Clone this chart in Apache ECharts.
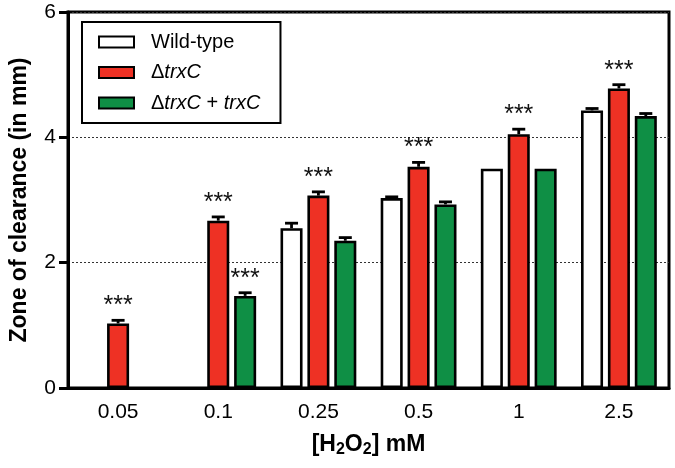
<!DOCTYPE html>
<html>
<head>
<meta charset="utf-8">
<script src="https://cdn.jsdelivr.net/npm/echarts@6/dist/echarts.min.js"></script>
<style>
  html, body { margin: 0; padding: 0; background: #fff; }
  #chart { width: 675px; height: 468px; }
</style>
</head>
<body>
<div id="chart"></div>
<script>
const categories = ['0.05', '0.1', '0.25', '0.5', '1', '2.5'];
const yTicks = [0, 2, 4, 6];

// mean zone of clearance (mm) and upper error (SD)
const wildMean = ['-', '-', 2.55, 3.03, 3.50, 4.43];
const wildErr = [0, 0, 0.08, 0.02, 0.0, 0.03];
const mutMean = [1.03, 2.67, 3.07, 3.53, 4.05, 4.78];
const mutErr = [0.05, 0.06, 0.06, 0.07, 0.08, 0.06];
const compMean = ['-', 1.47, 2.35, 2.93, 3.50, 4.34];
const compErr = [0, 0.05, 0.05, 0.04, 0.0, 0.04];
const mutStars = [1, 1, 1, 1, 1, 1];
const compStars = [0, 1, 0, 0, 0, 0];

const seriesNames = ['Wild-type', 'ΔtrxC', 'ΔtrxC + trxC'];
const colors = ['#ffffff', '#ee3124', '#0f8f45'];
const font = 'Arial, "Liberation Sans", Helvetica, sans-serif';

const BAR_FRAC = 0.22;
const GAP_FRAC = 0.22;

const chart = echarts.init(document.getElementById('chart'));

// error bar rows: [category index, mean, err, position in group, star]
const errRows = [];
[[wildMean, wildErr, null], [mutMean, mutErr, mutStars], [compMean, compErr, compStars]].forEach(([m, e, s], pos) => {
  m.forEach((v, i) => {
    if (v === '-') return;
    errRows.push([i, v, e[i], pos, s ? s[i] : 0]);
  });
});

const renderErr = (params, api) => {
  const i = api.value(0);
  const mean = api.value(1);
  const err = api.value(2);
  const pos = api.value(3);
  const star = api.value(4);
  const band = api.size([1, 0])[0];
  const barW = band * BAR_FRAC;
  const off = (pos - 1) * barW * (1 + GAP_FRAC);
  const base = api.coord([i, mean]);
  const top = api.coord([i, mean + err]);
  const x = base[0] + off;
  const children = [];
  if (err > 0) {
    children.push({
      type: 'line',
      shape: { x1: x, y1: base[1], x2: x, y2: top[1] },
      style: { stroke: '#000', lineWidth: 2.8 }
    });
    children.push({
      type: 'line',
      shape: { x1: x - 6.5, y1: top[1], x2: x + 6.5, y2: top[1] },
      style: { stroke: '#000', lineWidth: 2.8 }
    });
  }
  if (star) {
    children.push({
      type: 'text',
      style: {
        text: '***',
        x: x,
        y: top[1] - 14,
        align: 'center',
        verticalAlign: 'middle',
        fill: '#111',
        font: '25px ' + font
      }
    });
  }
  return { type: 'group', children };
};

const barSeries = [wildMean, mutMean, compMean].map((data, k) => ({
  name: seriesNames[k],
  type: 'bar',
  data,
  barWidth: (BAR_FRAC * 100) + '%',
  barGap: (GAP_FRAC * 100) + '%',
  itemStyle: { color: colors[k], borderColor: '#000', borderWidth: 2.6 },
  emphasis: { disabled: true },
  z: 2
}));

const legendLabel = (name) => {
  if (name === 'ΔtrxC') return '{r|Δ}{i|trxC}';
  if (name === 'ΔtrxC + trxC') return '{r|Δ}{i|trxC}{r| + }{i|trxC}';
  return '{r|' + name + '}';
};

chart.setOption({
  animation: false,
  backgroundColor: '#fff',
  grid: {
    left: 62, right: 6, top: 12, bottom: 80,
    show: true, borderColor: '#000', borderWidth: 3, backgroundColor: 'transparent'
  },
  legend: {
    orient: 'vertical',
    left: 82,
    top: 22,
    padding: [10, 20, 10, 16],
    borderColor: '#000',
    borderWidth: 2,
    itemWidth: 35,
    itemHeight: 11,
    itemGap: 10.5,
    icon: 'rect',
    data: seriesNames,
    formatter: legendLabel,
    textStyle: {
      color: '#000',
      fontFamily: font,
      fontSize: 20,
      lineHeight: 20,
      padding: [0, 0, 0, 12],
      rich: {
        r: { fontFamily: font, fontSize: 20, color: '#000' },
        i: { fontFamily: font, fontSize: 20, color: '#000', fontStyle: 'italic' }
      }
    },
    itemStyle: { borderColor: '#000', borderWidth: 2 }
  },
  xAxis: {
    type: 'category',
    data: categories,
    name: '{b|[H}{s|2}{b|O}{s|2}{b|] mM}',
    nameLocation: 'middle',
    nameGap: 44,
    nameTextStyle: {
      rich: {
        b: { fontFamily: font, fontSize: 23, fontWeight: 'bold', color: '#000' },
        s: { fontFamily: font, fontSize: 16, fontWeight: 'bold', color: '#000', verticalAlign: 'bottom', padding: [10, 0, 0, 0] }
      }
    },
    axisLine: { lineStyle: { color: '#000', width: 3 } },
    axisTick: { alignWithLabel: true, length: 9, lineStyle: { color: '#000', width: 3 } },
    axisLabel: { color: '#000', fontFamily: font, fontSize: 21, margin: 14 },
    splitLine: { show: false }
  },
  yAxis: {
    type: 'value',
    min: yTicks[0],
    max: yTicks[yTicks.length - 1],
    interval: 2,
    name: 'Zone of clearance (in mm)',
    nameLocation: 'middle',
    nameGap: 37,
    nameTextStyle: { color: '#000', fontFamily: font, fontSize: 23, fontWeight: 'bold' },
    axisLine: { show: true, lineStyle: { color: '#000', width: 3 } },
    axisTick: { show: true, length: 9, lineStyle: { color: '#000', width: 3 } },
    axisLabel: { color: '#000', fontFamily: font, fontSize: 21, margin: 12 },
    splitLine: { show: true, lineStyle: { color: '#333', width: 1, type: [2, 2] } }
  },
  series: [
    ...barSeries,
    {
      type: 'custom',
      renderItem: renderErr,
      data: errRows,
      encode: { x: 0, y: 1 },
      clip: false,
      silent: true,
      z: 3
    }
  ]
});
</script>
</body>
</html>
